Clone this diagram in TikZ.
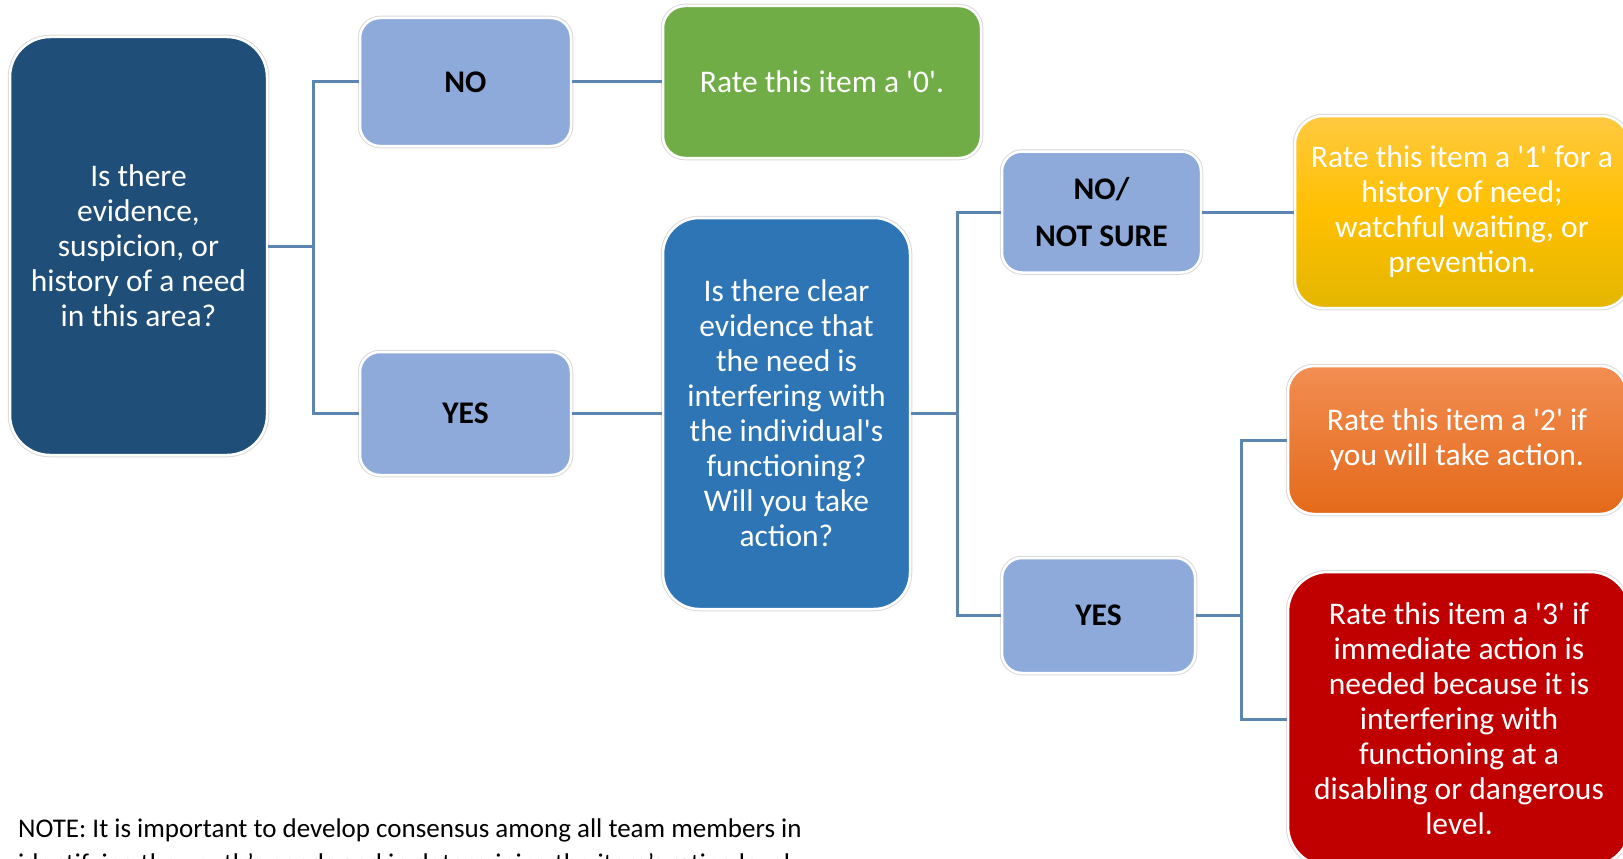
\documentclass[tikz,border=0pt]{standalone}
\usepackage{fontspec}
\setmainfont{Carlito}
\usepackage{tikz}
\usepackage{xcolor}
\definecolor{QuestionNavy}{HTML}{1F4E79}
\definecolor{QuestionBlue}{HTML}{2E75B6}
\definecolor{AnswerBlue}{HTML}{8EAADB}
\definecolor{RateGreen}{HTML}{70AD47}
\definecolor{RateYellowTop}{HTML}{FFC940}
\definecolor{RateYellow}{HTML}{FFC000}
\definecolor{RateYellowLow}{HTML}{E3B600}
\definecolor{RateOrangeTop}{HTML}{F28D52}
\definecolor{RateOrangeLow}{HTML}{E46A1A}
\definecolor{RateRed}{HTML}{C00000}
\definecolor{LinkBlue}{HTML}{5B86B2}
\definecolor{EdgeGray}{HTML}{DADADA}
\usetikzlibrary{positioning}
\newcommand{\boxfont}{\fontsize{31.5}{35}\selectfont}
\newcommand{\sq}{\textquotesingle}

\tikzset{
  box/.style={rounded corners=#1, preaction={draw=EdgeGray, line width=4.5pt},
    draw=white, line width=2.5pt, align=center, inner sep=0pt,
    text=white, font=\boxfont},
  answer/.style={box=20pt, fill=AnswerBlue, text=black, font=\boxfont\bfseries},
  link/.style={draw=LinkBlue, line width=3pt},
}

\begin{document}
\begin{tikzpicture}[x=1pt, y=-1pt]
  \useasboundingbox (0,0) rectangle (1623,859);
  % questions
  \node[box=40pt, fill=QuestionNavy, minimum width=257, minimum height=418] (q1) at (138.5,246)
    {Is there\\evidence,\\suspicion, or\\history of a need\\in this area?};
  \node[box=36pt, fill=QuestionBlue, minimum width=247, minimum height=391] (q2) at (786.5,413.5)
    {Is there clear\\evidence that\\the need is\\interfering with\\the individual\sq s\\functioning?\\Will you take\\action?};
  % answers
  \node[answer, minimum width=211, minimum height=128] (no1) at (465.5,82) {NO};
  \node[answer, minimum width=211, minimum height=123] (yes1) at (465.5,413.5) {YES};
  \node[answer, minimum width=199, minimum height=121] (no2) at (1101.5,212) {NO/\\[12pt]NOT SURE};
  \node[answer, minimum width=193, minimum height=115] (yes2) at (1098.5,615.5) {YES};
  % ratings
  \node[box=22pt, fill=RateGreen, minimum width=318, minimum height=152] (r0) at (822,82)
    {Rate this item a \sq 0\sq.};
  \node[box=28pt, top color=RateYellowTop, bottom color=RateYellowLow, middle color=RateYellow,
    minimum width=334, minimum height=192] (r1) at (1462,212)
    {Rate this item a \sq 1\sq{} for a\\history of need;\\watchful waiting, or\\prevention.};
  \node[box=26pt, top color=RateOrangeTop, bottom color=RateOrangeLow,
    minimum width=338, minimum height=148] (r2) at (1457,440)
    {Rate this item a \sq 2\sq{} if\\you will take action.};
  \node[box=40pt, fill=RateRed, minimum width=342, minimum height=294] (r3) at (1459,719)
    {Rate this item a \sq 3\sq{} if\\immediate action is\\needed because it is\\interfering with\\functioning at a\\disabling or dangerous\\level.};
  % junctions
  \coordinate (j1) at (313,246);
  \coordinate (j2) at (957,413.5);
  \coordinate (j3) at (1241,615.5);
  \draw[link] (q1.east) -- (j1) |- (no1.west);
  \draw[link] (j1) |- (yes1.west);
  \draw[link] (no1.east) -- (r0.west);
  \draw[link] (yes1.east) -- (q2.west);
  \draw[link] (q2.east) -- (j2) |- (no2.west);
  \draw[link] (j2) |- (yes2.west);
  \draw[link] (no2.east) -- (r1.west);
  \draw[link] (yes2.east) -- (j3) |- (r3.west);
  \draw[link] (j3) |- (r2.west);
  % note
  \node[anchor=base west, align=left, inner sep=0pt, font=\fontsize{27}{35}\selectfont] (note) at (18,872)
    {NOTE: It is important to develop consensus among all team members in\\identifying the youth’s needs and in determining the item’s rating level.};
\end{tikzpicture}
\end{document}
